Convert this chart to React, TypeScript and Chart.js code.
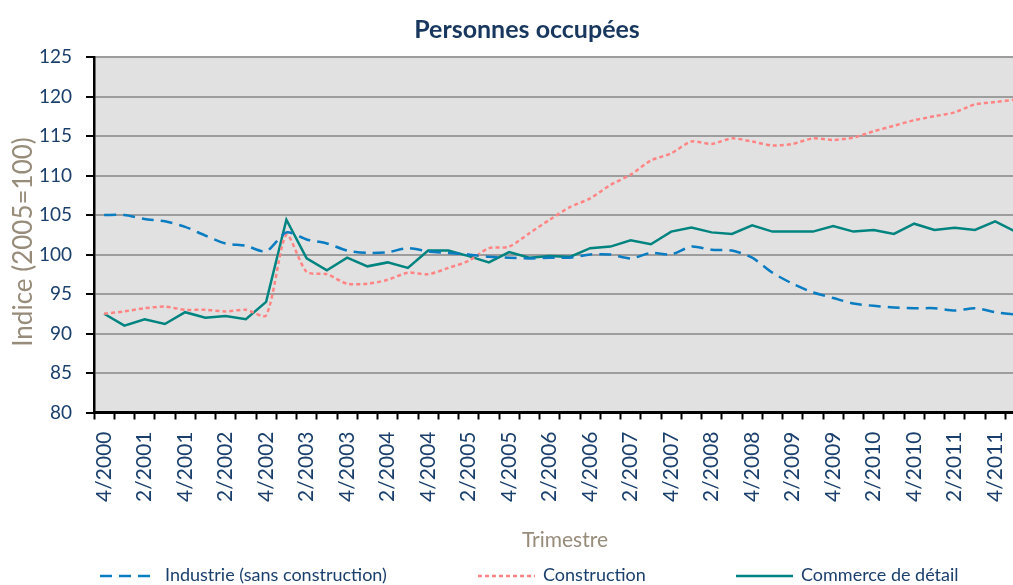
import React, { useEffect, useRef } from "react";
import { Chart, registerables } from "chart.js";

Chart.register(...registerables);

// ---------- data ----------
const quarters = [
  "4/2000",
  "1/2001", "2/2001", "3/2001", "4/2001",
  "1/2002", "2/2002", "3/2002", "4/2002",
  "1/2003", "2/2003", "3/2003", "4/2003",
  "1/2004", "2/2004", "3/2004", "4/2004",
  "1/2005", "2/2005", "3/2005", "4/2005",
  "1/2006", "2/2006", "3/2006", "4/2006",
  "1/2007", "2/2007", "3/2007", "4/2007",
  "1/2008", "2/2008", "3/2008", "4/2008",
  "1/2009", "2/2009", "3/2009", "4/2009",
  "1/2010", "2/2010", "3/2010", "4/2010",
  "1/2011", "2/2011", "3/2011", "4/2011",
  "1/2012",
];

const shownTickLabels = [
  "4/2000", "2/2001", "4/2001", "2/2002", "4/2002", "2/2003", "4/2003",
  "2/2004", "4/2004", "2/2005", "4/2005", "2/2006", "4/2006", "2/2007",
  "4/2007", "2/2008", "4/2008", "2/2009", "4/2009", "2/2010", "4/2010",
  "2/2011", "4/2011",
];

const industrie = [
  105.0, 105.0, 104.5, 104.2, 103.5, 102.4, 101.4, 101.1, 100.4, 102.8,
  101.9, 101.4, 100.5, 100.2, 100.3, 100.8, 100.4, 100.2, 100.0, 99.7,
  99.6, 99.5, 99.6, 99.6, 100.0, 100.0, 99.5, 100.2, 100.0, 101.0,
  100.6, 100.5, 99.6, 97.7, 96.3, 95.2, 94.5, 93.8, 93.5, 93.3,
  93.2, 93.2, 92.9, 93.2, 92.7, 92.4,
];

const construction = [
  92.5, 92.8, 93.2, 93.4, 93.0, 93.0, 92.8, 93.0, 92.3, 102.5,
  97.8, 97.5, 96.3, 96.3, 96.8, 97.7, 97.5, 98.3, 99.2, 100.8,
  101.0, 102.7, 104.4, 106.0, 107.1, 108.8, 110.1, 111.9, 112.8, 114.3,
  114.0, 114.7, 114.3, 113.8, 114.0, 114.7, 114.5, 114.8, 115.6, 116.3,
  117.0, 117.5, 118.0, 119.0, 119.3, 119.6,
];

const commerce = [
  92.5, 91.0, 91.8, 91.2, 92.7, 92.0, 92.2, 91.8, 94.0, 104.4,
  99.5, 98.0, 99.6, 98.5, 99.0, 98.3, 100.5, 100.5, 99.8, 99.0,
  100.3, 99.6, 99.8, 99.7, 100.8, 101.0, 101.8, 101.3, 102.9, 103.4,
  102.8, 102.6, 103.7, 102.9, 102.9, 102.9, 103.6, 102.9, 103.1, 102.6,
  103.9, 103.1, 103.4, 103.1, 104.2, 102.9,
];

const seriesNames = ["Industrie (sans construction)", "Construction", "Commerce de détail"];
const titleText = "Personnes occupées";
const yTitleText = "Indice (2005=100)";
const xTitleText = "Trimestre";
const yMin = 80;
const yMax = 125;
const yStep = 5;

// ---------- styles ----------
const FONT = "Lato, 'Open Sans', sans-serif";
const NAVY = "#1a3f6c";
const TITLE_NAVY = "#17375e";
const TAN = "#978b7a";
const PLOT_BG = "#e1e1e1";
const GRID = "#9d9d9d";

const decorPlugin = {
  id: "decor",
  beforeDraw(chart: any) {
    const { ctx, chartArea } = chart;
    ctx.save();
    ctx.fillStyle = PLOT_BG;
    ctx.fillRect(chartArea.left, chartArea.top, chartArea.right - chartArea.left, chartArea.bottom - chartArea.top);
    ctx.restore();
  },
  afterDraw(chart: any) {
    const { ctx } = chart;
    ctx.save();
    // title
    ctx.font = `bold 25px ${FONT}`;
    ctx.fillStyle = TITLE_NAVY;
    ctx.textAlign = "center";
    ctx.textBaseline = "alphabetic";
    ctx.fillText(titleText, 527, 38);

    // x title
    ctx.font = `21px ${FONT}`;
    ctx.fillStyle = TAN;
    ctx.fillText(xTitleText, 565, 547);

    // y title
    ctx.save();
    ctx.translate(32, 242);
    ctx.rotate(-Math.PI / 2);
    ctx.font = `26px ${FONT}`;
    ctx.fillStyle = TAN;
    ctx.textAlign = "center";
    ctx.fillText(yTitleText, 0, 0);
    ctx.restore();

    // legend
    const sampleStarts = [100, 478, 736];
    const sampleLen = 57;
    chart.data.datasets.forEach((ds: any, k: number) => {
      const x0 = sampleStarts[k];
      ctx.save();
      ctx.strokeStyle = ds.borderColor;
      ctx.lineWidth = ds.borderWidth;
      ctx.setLineDash(ds.borderDash || []);
      ctx.beginPath();
      ctx.moveTo(x0, 576);
      ctx.lineTo(x0 + sampleLen, 576);
      ctx.stroke();
      ctx.restore();
      ctx.font = `18px ${FONT}`;
      ctx.fillStyle = NAVY;
      ctx.textAlign = "left";
      ctx.fillText(ds.label, x0 + sampleLen + 8, 581);
    });
    ctx.restore();
  },
};

export default function App() {
  const canvasRef = useRef<HTMLCanvasElement | null>(null);

  useEffect(() => {
    document.body.style.margin = "0";
    document.body.style.overflow = "hidden";
    const canvas = canvasRef.current;
    if (!canvas) return;

    const toPoints = (arr: number[]) => arr.map((v, i) => ({ x: i, y: v }));

    const chart = new Chart(canvas, {
      type: "line",
      data: {
        datasets: [
          {
            label: seriesNames[0],
            data: toPoints(industrie),
            borderColor: "#0a7cc1",
            borderWidth: 2.5,
            borderDash: [12, 7],
            pointRadius: 0,
            tension: 0.25,
            fill: false,
          },
          {
            label: seriesNames[1],
            data: toPoints(construction),
            borderColor: "#ff8585",
            borderWidth: 2.5,
            borderDash: [4, 3],
            pointRadius: 0,
            tension: 0.25,
            fill: false,
          },
          {
            label: seriesNames[2],
            data: toPoints(commerce),
            borderColor: "#00847f",
            borderWidth: 2.5,
            pointRadius: 0,
            tension: 0,
            fill: false,
          },
        ],
      },
      options: {
        responsive: false,
        animation: false,
        layout: { padding: { top: 57, right: 0, bottom: 0, left: 0 } },
        plugins: {
          legend: { display: false },
          title: { display: false },
          tooltip: { enabled: false },
        },
        scales: {
          x: {
            type: "linear",
            min: -0.5,
            max: 44.88,
            bounds: "data",
            afterBuildTicks: (scale: any) => {
              scale.ticks = quarters
                .map((_, i) => ({ value: i }))
                .filter((t) => t.value <= scale.max);
            },
            afterFit: (scale: any) => {
              scale.height = 172.5;
              scale.paddingLeft = 0;
              scale.paddingRight = 0;
            },
            ticks: {
              autoSkip: false,
              minRotation: 90,
              maxRotation: 90,
              padding: 12,
              color: NAVY,
              font: { family: FONT, size: 21 },
              callback: (value: any) => {
                const lab = quarters[Math.round(Number(value))];
                return shownTickLabels.includes(lab) ? lab : "";
              },
            },
            grid: {
              display: true,
              drawOnChartArea: false,
              drawTicks: true,
              tickLength: 7,
              tickColor: "#000",
              tickWidth: 2,
              offset: true,
            },
            border: { display: true, color: "#000", width: 3 },
          },
          y: {
            min: yMin,
            max: yMax,
            afterFit: (scale: any) => {
              scale.width = 94;
              scale.paddingTop = 0;
              scale.paddingBottom = 0;
            },
            ticks: {
              stepSize: yStep,
              padding: 14,
              color: NAVY,
              font: { family: FONT, size: 19 },
            },
            grid: {
              color: GRID,
              lineWidth: 2,
              tickLength: 8,
              tickColor: "#000",
              tickWidth: 2,
            },
            border: { display: true, color: "#000", width: 2.5 },
          },
        },
      },
      plugins: [decorPlugin],
    } as any);

    return () => chart.destroy();
  }, []);

  return (
    <div style={{ width: 1013, height: 585, overflow: "hidden" }}>
      <canvas ref={canvasRef} width={1013} height={585} style={{ display: "block" }} />
    </div>
  );
}
